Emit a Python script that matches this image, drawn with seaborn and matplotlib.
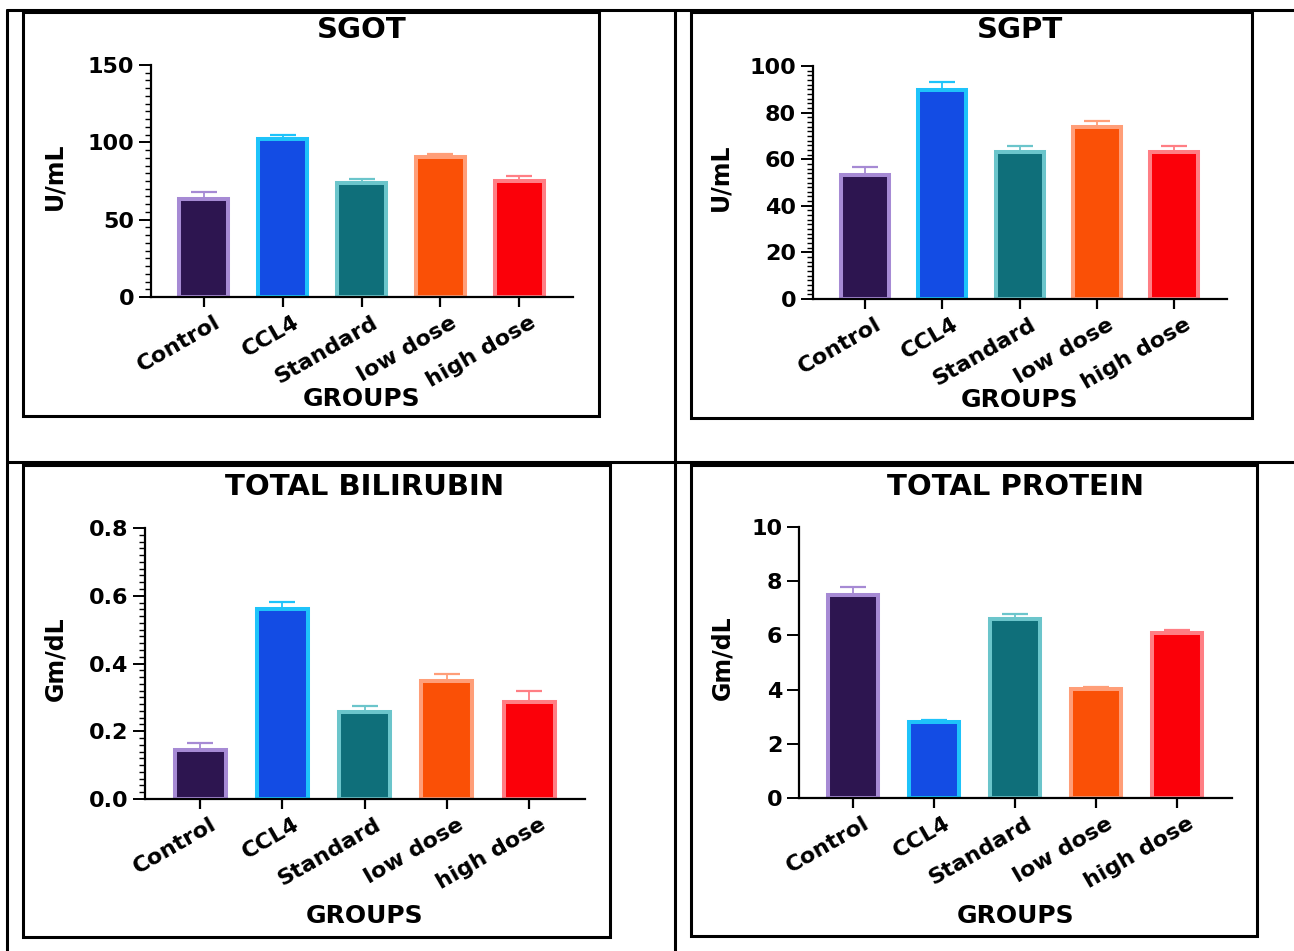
import matplotlib
matplotlib.use("Agg")
import matplotlib.pyplot as plt
from matplotlib.lines import Line2D
from matplotlib.patches import Rectangle
from matplotlib.ticker import MultipleLocator, FormatStrFormatter
from matplotlib.transforms import ScaledTranslation
import seaborn as sns
import pandas as pd

# Treatment groups and their colours (bar fill / bar outline + error bar)
groups = ["Control", "CCL4", "Standard", "low dose", "high dose"]
fill_colors = ["#2D1550", "#134CE4", "#0F6F7A", "#FA5006", "#FB0009"]
edge_colors = ["#A68AD4", "#1EC3FA", "#6BC5CB", "#FF9E78", "#FF7E84"]

# Serum parameters: mean and SEM per group
sgot_mean = [63.4, 102.3, 73.9, 90.2, 74.7]
sgot_sem = [4.6, 2.6, 2.4, 2.1, 3.7]

sgpt_mean = [53.2, 89.7, 63.3, 73.7, 63.0]
sgpt_sem = [3.6, 3.4, 2.4, 2.6, 2.7]

bili_mean = [0.144, 0.561, 0.256, 0.348, 0.286]
bili_sem = [0.021, 0.022, 0.019, 0.021, 0.032]

prot_mean = [7.48, 2.79, 6.61, 4.01, 6.08]
prot_sem = [0.32, 0.09, 0.18, 0.10, 0.12]

sns.set_style("ticks")
plt.rcParams["font.family"] = ["DejaVu Sans"]
plt.rcParams["font.weight"] = "bold"
plt.rcParams["axes.labelweight"] = "bold"
plt.rcParams["axes.titleweight"] = "bold"
plt.rcParams["text.color"] = "black"
plt.rcParams["axes.labelcolor"] = "black"
plt.rcParams["xtick.color"] = "black"
plt.rcParams["ytick.color"] = "black"

W, H = 1294, 951
fig = plt.figure(figsize=(W / 100, H / 100), dpi=100)
fig.patch.set_facecolor("white")


def fig_rect(left, top, right, bottom):
    return [left / W, 1 - bottom / H, (right - left) / W, (bottom - top) / H]


panels = [
    dict(title="SGOT", ylabel="U/mL", mean=sgot_mean, sem=sgot_sem,
         ymax=150, major=50, minor=5, fmt="%d",
         axes=(151, 65, 573, 297), box=(23, 12, 599, 416),
         title_y=30, xlabel_y=399, ylabel_x=54),
    dict(title="SGPT", ylabel="U/mL", mean=sgpt_mean, sem=sgpt_sem,
         ymax=100, major=20, minor=2, fmt="%d",
         axes=(813, 66, 1227, 299), box=(691, 12, 1252, 418),
         title_y=30, xlabel_y=400, ylabel_x=720),
    dict(title="TOTAL BILIRUBIN", ylabel="Gm/dL", mean=bili_mean, sem=bili_sem,
         ymax=0.8, major=0.2, minor=0.02, fmt="%.1f",
         axes=(145, 528, 585, 799), box=(23, 465, 610, 937),
         title_y=487, xlabel_y=916, ylabel_x=55),
    dict(title="TOTAL PROTEIN", ylabel="Gm/dL", mean=prot_mean, sem=prot_sem,
         ymax=10, major=2, minor=None, fmt="%d",
         axes=(799, 527, 1232, 798), box=(691, 465, 1257, 936),
         title_y=487, xlabel_y=916, ylabel_x=722),
]

# Table rules framing the four cells
rule_kw = dict(transform=fig.transFigure, color="black", lw=2.2)
fig.add_artist(Line2D([7 / W, 1], [1 - 10 / H, 1 - 10 / H], **rule_kw))
fig.add_artist(Line2D([7 / W, 1], [1 - 462 / H, 1 - 462 / H], **rule_kw))
fig.add_artist(Line2D([7 / W, 7 / W], [1 - 10 / H, 0], **rule_kw))
fig.add_artist(Line2D([675 / W, 675 / W], [1 - 10 / H, 0], **rule_kw))

for p in panels:
    l, t, r, b = p["axes"]
    ax = fig.add_axes(fig_rect(l, t, r, b))
    ax.set_facecolor("none")

    df = pd.DataFrame({"group": groups, "value": p["mean"]})
    sns.barplot(data=df, x="group", y="value", hue="group", order=groups,
                hue_order=groups, palette=fill_colors, saturation=1,
                legend=False, width=0.62, errorbar=None, linewidth=2.9, ax=ax)
    for patch, ec in zip(ax.patches, edge_colors):
        patch.set_edgecolor(ec)

    # upper-only SEM whiskers
    for i, (m, s, c) in enumerate(zip(p["mean"], p["sem"], edge_colors)):
        ax.errorbar(i, m, yerr=[[0], [s]], fmt="none", ecolor=c,
                    elinewidth=1.3, capsize=9.5, capthick=1.6, zorder=0.5)

    ax.set_xlim(-0.67, 4.68)
    ax.set_ylim(0, p["ymax"])
    ax.yaxis.set_major_locator(MultipleLocator(p["major"]))
    ax.yaxis.set_major_formatter(FormatStrFormatter(p["fmt"]))
    if p["minor"]:
        ax.yaxis.set_minor_locator(MultipleLocator(p["minor"]))

    sns.despine(ax=ax)
    for side in ("left", "bottom"):
        ax.spines[side].set_linewidth(1.6)
        ax.spines[side].set_color("black")

    ax.tick_params(axis="y", which="major", length=8.6, width=1.4, pad=3.5,
                   labelsize=16, colors="black")
    ax.tick_params(axis="y", which="minor", length=4.5, width=1.0,
                   colors="black")
    ax.tick_params(axis="x", which="major", length=7, width=1.6, pad=4,
                   labelsize=16, colors="black")

    ax.set_xticks(range(len(groups)))
    ax.set_xticklabels(groups, rotation=30, ha="right", va="top",
                       rotation_mode="anchor", fontweight="bold")
    shift = ScaledTranslation(10 / 100, 0, fig.dpi_scale_trans)
    for lbl in ax.get_xticklabels():
        lbl.set_transform(lbl.get_transform() + shift)
    for lbl in ax.get_yticklabels():
        lbl.set_fontweight("bold")

    ax.set_title(p["title"], fontsize=21, fontweight="bold", color="black",
                 y=(b - p["title_y"]) / (b - t), va="center", pad=0)
    ax.set_xlabel("GROUPS", fontsize=18, fontweight="bold", color="black")
    ax.xaxis.label.set_va("center")
    ax.xaxis.set_label_coords(0.5, -(p["xlabel_y"] - b) / (b - t))
    ax.set_ylabel(p["ylabel"], fontsize=17, fontweight="bold", color="black")
    ax.yaxis.label.set_va("center")
    ax.yaxis.label.set_ha("center")
    ylab_center = ((b + t) / 2 - 5)
    ax.yaxis.set_label_coords(-(l - p["ylabel_x"]) / (r - l),
                              (b - ylab_center) / (b - t))

    bl, bt, br, bb = p["box"]
    fig.add_artist(Rectangle((bl / W, 1 - bb / H), (br - bl) / W, (bb - bt) / H,
                             transform=fig.transFigure, fill=False,
                             ec="black", lw=2.2))

fig.savefig("out.png", dpi=100, facecolor="white")
